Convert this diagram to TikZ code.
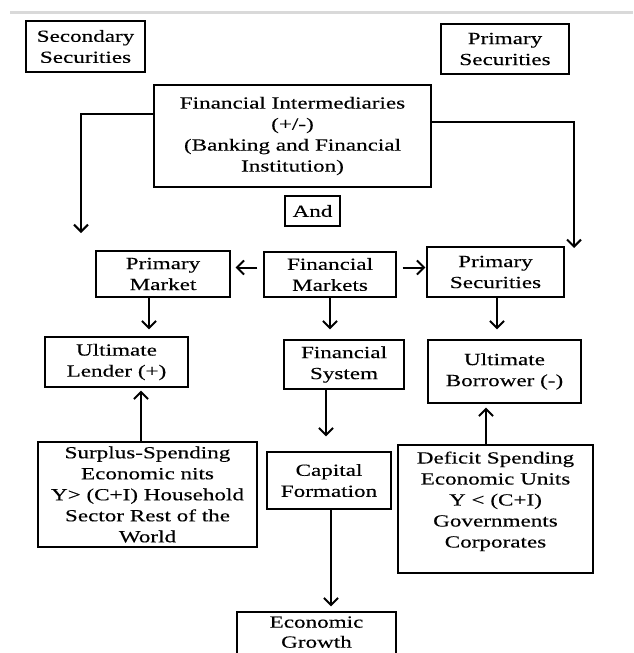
\documentclass[tikz,border=0pt]{standalone}
\usepackage{fontspec}
\setmainfont{Liberation Serif}[FakeStretch=1.36, FakeBold=0.25]
\usetikzlibrary{arrows.meta}

\begin{document}
\begin{tikzpicture}[x=1pt, y=-1pt,
    box/.style={draw, line width=1.3pt, align=center, inner sep=2pt,
                font=\fontsize{17}{21}\selectfont},
    flow/.style={->, line width=2pt},
    >={Straight Barb[length=7pt,width=14pt]}
]
\useasboundingbox (0,0) rectangle (633,653);
\draw[black!15, line width=3pt] (10,12) -- (633,12);

% --- Top row ---
\node[box, minimum width=119, minimum height=51] (secsec) at (85.5,46.5) {Secondary\\Securities};
\node[box, minimum width=128, minimum height=50] (topsec) at (505,49) {Primary\\Securities};
\node[box, minimum width=277, minimum height=102] (fi) at (292.5,136) {Financial Intermediaries\\(+/-)\\(Banking and Financial\\Institution)};
\node[box, minimum width=55, minimum height=30] (and) at (312.5,211) {And};

% --- Markets ---
\node[box, minimum width=134, minimum height=46] (pmkt) at (163,274) {Primary\\Market};
\node[box, minimum width=132, minimum height=45] (fmkt) at (330,274.5) {Financial\\Markets};
\node[box, minimum width=137, minimum height=50] (psec) at (495.5,272) {Primary\\Securities};

\node[box, minimum width=143, minimum height=50] (ulend) at (116.5,362) {Ultimate\\Lender (+)};
\node[box, minimum width=120, minimum height=49] (fsys) at (344,364.5) {Financial\\System};
\node[box, minimum width=153, minimum height=63] (uborr) at (504.5,371.5) {Ultimate\\Borrower (-)};

% --- Units and growth ---
\node[box, minimum width=219, minimum height=105] (surplus) at (147.5,494.5) {Surplus-Spending\\Economic nits\\Y> (C+I) Household\\Sector Rest of the\\World};
\node[box, minimum width=124, minimum height=57] (capf) at (329,480.5) {Capital\\Formation};
\node[box, minimum width=195, minimum height=128] (deficit) at (495.5,509) {Deficit Spending\\Economic Units\\Y < (C+I)\\Governments\\Corporates\\[-2pt]\mbox{}};
\node[box, minimum width=159, minimum height=56, font=\fontsize{17}{20}\selectfont] (growth) at (316.5,640) {Economic\\Growth\\[-4pt]\mbox{}};

\coordinate (lend) at (81,233);
\coordinate (rend) at (574,248);

% Connectors
\draw[flow] ([yshift=22pt]fi.west) -| (lend);
\draw[flow] ([yshift=14pt]fi.east) -| (rend);
\draw[flow, shorten <=6pt, shorten >=5pt] ([yshift=7pt]fmkt.west) -- ([yshift=7pt]fmkt.west -| pmkt.east);
\draw[flow, shorten <=6pt, shorten >=1pt] ([yshift=7pt]fmkt.east) -- ([yshift=7pt]fmkt.east -| psec.west);
\draw[flow, shorten >=7pt] ([xshift=-14pt]pmkt.south) -- ([xshift=-14pt]pmkt.south |- ulend.north);
\draw[flow, shorten >=10pt] (fmkt.south) -- (fmkt.south |- fsys.north);
\draw[flow, shorten >=10pt] ([xshift=1.5pt]psec.south) -- ([xshift=1.5pt]psec.south |- uborr.north);
\draw[flow, shorten >=3pt] ([xshift=-6.5pt]surplus.north) -- ([xshift=-6.5pt]surplus.north |- ulend.south);
\draw[flow, shorten >=4pt] ([xshift=-9.5pt]deficit.north) -- ([xshift=-9.5pt]deficit.north |- uborr.south);
\draw[flow, shorten >=15pt] ([xshift=-18pt]fsys.south) -- ([xshift=-18pt]fsys.south |- capf.north);
\draw[flow, shorten >=5pt] ([xshift=2pt]capf.south) -- ([xshift=2pt]capf.south |- growth.north);

\end{tikzpicture}
\end{document}
